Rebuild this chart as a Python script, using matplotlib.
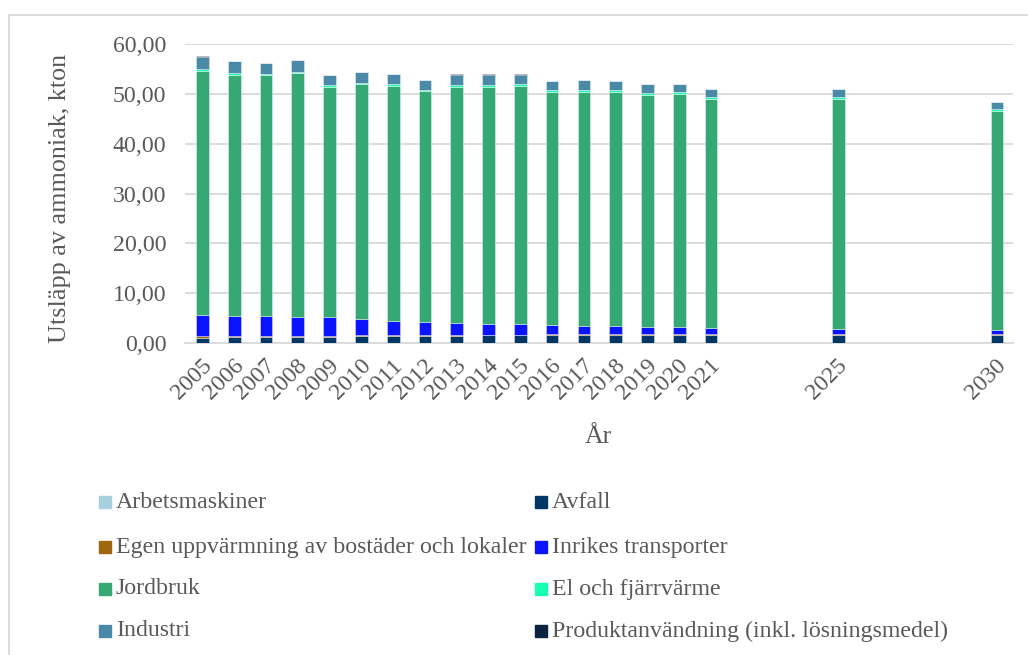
import matplotlib
matplotlib.use('Agg')
import matplotlib.pyplot as plt
from matplotlib.patches import Rectangle
from matplotlib.lines import Line2D
from matplotlib.transforms import ScaledTranslation
import numpy as np

years = [2005, 2006, 2007, 2008, 2009, 2010, 2011, 2012, 2013, 2014, 2015,
         2016, 2017, 2018, 2019, 2020, 2021, 2025, 2030]
year_labels = [str(y) for y in years]

arbetsmaskiner = [0.01, 0.01, 0.01, 0.01, 0.01, 0.01, 0.01, 0.01, 0.01, 0.01,
                  0.01, 0.01, 0.01, 0.01, 0.01, 0.01, 0.01, 0.01, 0.01]
avfall = [1.05, 1.10, 1.15, 1.20, 1.25, 1.30, 1.40, 1.45, 1.45, 1.50, 1.50,
          1.55, 1.60, 1.60, 1.60, 1.60, 1.60, 1.60, 1.60]
egen_uppvarmning = [0.25, 0.25, 0.22, 0.22, 0.20, 0.20, 0.18, 0.18, 0.17, 0.17,
                    0.16, 0.16, 0.15, 0.15, 0.15, 0.15, 0.14, 0.13, 0.12]
inrikes_transporter = [4.40, 4.15, 3.98, 3.88, 3.70, 3.25, 2.77, 2.57, 2.33, 2.13,
                       2.09, 1.89, 1.75, 1.60, 1.45, 1.40, 1.21, 1.02, 0.83]
jordbruk = [48.90, 48.30, 48.35, 48.80, 46.25, 47.15, 47.25, 46.30, 47.45, 47.60,
            47.85, 46.80, 46.90, 47.05, 46.60, 46.85, 46.05, 46.25, 44.05]
el_och_fjarrvarme = [0.35, 0.35, 0.35, 0.35, 0.35, 0.35, 0.35, 0.35, 0.35, 0.35,
                     0.35, 0.35, 0.35, 0.35, 0.35, 0.35, 0.35, 0.35, 0.33]
industri = [2.50, 2.45, 2.15, 2.25, 2.05, 2.15, 2.05, 1.95, 2.10, 2.10, 1.90,
            1.85, 2.05, 1.85, 1.85, 1.65, 1.65, 1.55, 1.45]
produktanvandning = [0.05, 0.05, 0.05, 0.05, 0.05, 0.05, 0.05, 0.05, 0.05, 0.05,
                     0.05, 0.05, 0.05, 0.05, 0.05, 0.05, 0.05, 0.05, 0.05]

series_names = ["Arbetsmaskiner", "Avfall",
                "Egen uppvärmning av bostäder och lokaler", "Inrikes transporter",
                "Jordbruk", "El och fjärrvärme", "Industri",
                "Produktanvändning (inkl. lösningsmedel)"]
series_values = [arbetsmaskiner, avfall, egen_uppvarmning, inrikes_transporter,
                 jordbruk, el_och_fjarrvarme, industri, produktanvandning]
series_colors = ["#a6d0de", "#013766", "#a0670f", "#0a14ff",
                 "#36a873", "#19ffb0", "#4a8aa8", "#0b2240"]

W, H = 1028, 655
DPI = 100
plt.rcParams['font.family'] = ['Liberation Serif', 'DejaVu Serif']
TXT = '#595959'
GRID = '#d9d9d9'
FS = 17.2

fig = plt.figure(figsize=(W / DPI, H / DPI), dpi=DPI)

# outer chart frame
fig.add_artist(Line2D([9 / W, 1.0], [1 - 15 / H, 1 - 15 / H], color=GRID, lw=1.3,
                      transform=fig.transFigure))
fig.add_artist(Line2D([9 / W, 9 / W], [0, 1 - 15 / H], color=GRID, lw=1.3,
                      transform=fig.transFigure))

ax = fig.add_axes([185 / W, (H - 343) / H, (1013 - 185) / W, (343 - 44) / H])

x = np.array(years, dtype=float)
bottom = np.zeros(len(years))
for name, vals, col in zip(series_names, series_values, series_colors):
    v = np.array(vals)
    ax.bar(x, v, width=0.4, bottom=bottom, color=col,
           edgecolor=(1, 1, 1, 0.45), linewidth=0.6, zorder=3)
    bottom += v

ax.set_xlim(2004.45, 2030.5)
ax.set_ylim(0, 60)
ax.set_yticks(np.arange(0, 61, 10))
ax.set_yticklabels([f"{v:.2f}".replace('.', ',') for v in np.arange(0, 61, 10)])
ax.yaxis.grid(True, color=GRID, lw=1.3, zorder=0)
for s in ['top', 'right', 'left']:
    ax.spines[s].set_visible(False)
ax.spines['bottom'].set_color(GRID)
ax.spines['bottom'].set_linewidth(1.3)
ax.tick_params(axis='y', length=0, pad=13.5, labelsize=FS, labelcolor=TXT)
ax.set_xticks(x)
ax.set_xticklabels(year_labels)
ax.tick_params(axis='x', length=0, pad=14, labelsize=FS, labelcolor=TXT)
for lbl in ax.get_xticklabels():
    lbl.set_rotation(45)
    lbl.set_rotation_mode('anchor')
    lbl.set_ha('right')
    lbl.set_va('center')
    lbl.set_transform(lbl.get_transform() + ScaledTranslation(6 / DPI, 0, fig.dpi_scale_trans))

ax.set_ylabel("Utsläpp av ammoniak, kton", fontsize=18.8, color=TXT)
ax.yaxis.set_label_coords(-(185 - 60) / (1013 - 185), 0.485)
ax.yaxis.label.set_va('center')
ax.set_xlabel("År", fontsize=18.5, color=TXT)
ax.xaxis.set_label_coords((598 - 185) / (1013 - 185), -(437 - 343) / (343 - 44))
ax.xaxis.label.set_va('center')

# legend (row-major, two columns)
col_x = [99, 535]
row_y = [502, 547, 589, 631]
for i, (name, col) in enumerate(zip(series_names, series_colors)):
    r, c = divmod(i, 2)
    mx = col_x[c]
    my = row_y[r]
    fig.add_artist(Rectangle((mx / W, (H - my - 5.5) / H), 11.5 / W, 11.5 / H,
                             color=col, transform=fig.transFigure))
    fig.text((mx + 17) / W, (H - my) / H, name, fontsize=FS, color=TXT,
             ha='left', va='center')

fig.savefig('out.png', dpi=DPI)
